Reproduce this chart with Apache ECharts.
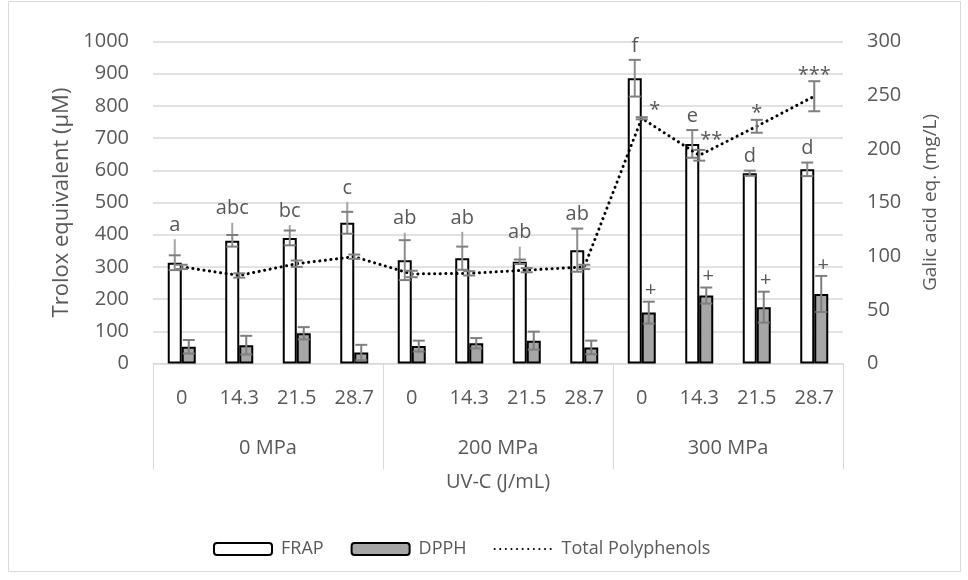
<!DOCTYPE html>
<html><head><meta charset="utf-8">
<script src="https://cdn.jsdelivr.net/npm/echarts@6/dist/echarts.min.js"></script>
<style>html,body{margin:0;padding:0;background:#fff}#c{width:968px;height:580px}</style>
</head><body><div id="c"></div>
<script>
// ---- data ----
const pressureGroups = ['0 MPa', '200 MPa', '300 MPa'];
const uvDoses = ['0', '14.3', '21.5', '28.7'];
const frap        = [313, 381, 390, 437, 321, 327, 316, 352, 886, 682, 591, 603];
const frapErr     = [23, 18, 23, 34, 62, 36, 7, 67, 57, 43, 8, 21];
const frapErrTop  = [386, 437, 430, 502, 406, 409, 363, 420, 943, 725, 599, 624];
const dpph        = [52, 57, 94, 34, 54, 63, 71, 50, 158, 211, 175, 216];
const dpphErr     = [21, 29, 19, 24, 17, 16, 28, 21, 34, 25, 48, 56];
const polyphenols = [90, 82, 93, 99.5, 83.4, 84, 87, 90, 228.5, 194, 221, 249];
const polyErr     = [2, 2, 3, 2, 3, 2, 2, 2, 1, 5, 6, 14];
const frapLetters = ['a', 'abc', 'bc', 'c', 'ab', 'ab', 'ab', 'ab', 'f', 'e', 'd', 'd'];
const dpphMarks   = ['', '', '', '', '', '', '', '', '+', '+', '+', '+'];
const polyMarks   = ['', '', '', '', '', '', '', '', '*', '**', '*', '***'];
const leftAxis  = { min: 0, max: 1000, interval: 100 };
const rightAxis = { min: 0, max: 300, interval: 50 };

// ---- build ----
const categories = [];
pressureGroups.forEach(g => uvDoses.forEach(u => categories.push(g + '|' + u)));
const FONT = '"Open Sans", sans-serif';
const TXT = '#595959';
const GRID = '#d9d9d9';
const BW = 14;           // bar width (px)
const HALF = 7;          // offset of each bar from category centre
const polyStarDx = [0, 0, 0, 0, 0, 0, 0, 0, 13, 12, 0, 0];
const polyStarDy = [0, 0, 0, 0, 0, 0, 0, 0, 3, 0, 3, 4];

function capLine(x, y, w, color) {
  return { type: 'line', shape: { x1: x - w / 2, y1: y, x2: x + w / 2, y2: y }, style: { stroke: color, lineWidth: 2 } };
}
function vLine(x, y1, y2, color) {
  return { type: 'line', shape: { x1: x, y1: y1, x2: x, y2: y2 }, style: { stroke: color, lineWidth: 2 } };
}

const chart = echarts.init(document.getElementById('c'), null, { renderer: 'canvas' });
chart.setOption({
  animation: false,
  backgroundColor: '#fff',
  textStyle: { fontFamily: FONT },
  graphic: [{
    type: 'rect', shape: { x: 8.5, y: 1.5, width: 952, height: 570 },
    style: { fill: 'none', stroke: GRID, lineWidth: 1 }, silent: true
  }],
  grid: { left: 153, right: 125, top: 41.5, bottom: 216.5, containLabel: false },
  legend: {
    left: 208, top: 535,
    itemWidth: 58, itemHeight: 12, itemGap: 27,
    textStyle: { color: TXT, fontSize: 18, fontFamily: FONT, padding: [0, 0, 0, 4] },
    data: ['FRAP', 'DPPH', { name: 'Total Polyphenols', itemStyle: { opacity: 0 } }]
  },
  xAxis: [{
    type: 'category', data: categories, position: 'bottom',
    axisLine: { lineStyle: { color: GRID, width: 1 } },
    axisTick: { show: false },
    axisLabel: { color: TXT, fontSize: 20, margin: 25, formatter: v => v.split('|')[1] }
  }, {
    type: 'category', data: pressureGroups, position: 'bottom',
    axisLine: { show: false },
    axisTick: { show: true, length: 106, lineStyle: { color: GRID, width: 1 } },
    axisLabel: { color: TXT, fontSize: 20, margin: 75 },
    name: 'UV-C (J/mL)', nameLocation: 'middle', nameGap: 109,
    nameTextStyle: { color: TXT, fontSize: 20 }
  }],
  yAxis: [{
    type: 'value', min: leftAxis.min, max: leftAxis.max, interval: leftAxis.interval,
    axisLine: { show: false }, axisTick: { show: false },
    splitLine: { lineStyle: { color: GRID, width: 1.5 } },
    axisLabel: { color: TXT, fontSize: 20, margin: 24, formatter: v => String(v) },
    name: 'Trolox equivalent (µM)', nameLocation: 'middle', nameRotate: 90, nameGap: 80,
    nameTextStyle: { color: TXT, fontSize: 22 }
  }, {
    type: 'value', min: rightAxis.min, max: rightAxis.max, interval: rightAxis.interval,
    position: 'right',
    axisLine: { show: false }, axisTick: { show: false }, splitLine: { show: false },
    axisLabel: { color: TXT, fontSize: 20, margin: 24, formatter: v => String(v) },
    name: 'Galic acid eq. (mg/L)', nameLocation: 'middle', nameRotate: 90, nameGap: 78,
    nameTextStyle: { color: TXT, fontSize: 19 }
  }],
  series: [{
    name: 'FRAP', type: 'bar', data: frap, barWidth: BW, barGap: '0%',
    itemStyle: { color: '#ffffff', borderColor: '#000', borderWidth: 2 }
  }, {
    name: 'DPPH', type: 'bar', data: dpph, barWidth: BW, barGap: '0%',
    itemStyle: { color: '#a6a6a6', borderColor: '#000', borderWidth: 2 }
  }, {
    // FRAP error bars + letters
    type: 'custom', xAxisIndex: 0, yAxisIndex: 0, z: 5,
    data: frap.map((v, i) => [i, v]),
    renderItem: (params, api) => {
      const i = params.dataIndex, v = frap[i], e = frapErr[i];
      const x = api.coord([i, v])[0] - HALF;
      const yt = api.coord([i, v + e])[1], yb = api.coord([i, v - e])[1];
      const yl = api.coord([i, Math.max(frapErrTop[i], v + e)])[1];
      return { type: 'group', children: [
        vLine(x, yl, yt, '#a6a6a6'),
        vLine(x, yt, yb, '#8c8c8c'),
        capLine(x, yt, 12, '#7f7f7f'), capLine(x, yb, 12, '#7f7f7f'),
        { type: 'text', style: { text: frapLetters[i], x: x, y: yl - 4, fill: TXT,
          fontSize: 20, fontFamily: FONT, align: 'center', verticalAlign: 'bottom' } }
      ] };
    }
  }, {
    // DPPH error bars + marks
    type: 'custom', xAxisIndex: 0, yAxisIndex: 0, z: 5,
    data: dpph.map((v, i) => [i, v]),
    renderItem: (params, api) => {
      const i = params.dataIndex, v = dpph[i], e = dpphErr[i];
      const x = api.coord([i, v])[0] + HALF;
      const yt = api.coord([i, v + e])[1], yb = api.coord([i, v - e])[1];
      return { type: 'group', children: [
        vLine(x, yt, yb, '#7f7f7f'),
        capLine(x, yt, 12, '#7f7f7f'), capLine(x, yb, 12, '#7f7f7f'),
        { type: 'text', style: { text: dpphMarks[i], x: x + 2, y: yt - 1, fill: TXT,
          fontSize: 20, fontFamily: FONT, align: 'center', verticalAlign: 'bottom' } }
      ] };
    }
  }, {
    name: 'Total Polyphenols', type: 'line', yAxisIndex: 1, data: polyphenols,
    symbol: 'none', z: 6,
    lineStyle: { color: '#000', width: 3, type: [0.1, 5.5], cap: 'round' },
    itemStyle: { color: '#000' }
  }, {
    // polyphenol error bars + stars
    type: 'custom', xAxisIndex: 0, yAxisIndex: 1, z: 7,
    data: polyphenols.map((v, i) => [i, v]),
    renderItem: (params, api) => {
      const i = params.dataIndex, v = polyphenols[i], e = polyErr[i];
      const x = api.coord([i, v])[0];
      const yt = api.coord([i, v + e])[1], yb = api.coord([i, v - e])[1];
      return { type: 'group', children: [
        vLine(x, yt, yb, '#7f7f7f'),
        capLine(x, yt, 12, '#7f7f7f'), capLine(x, yb, 12, '#7f7f7f'),
        { type: 'text', style: { text: polyMarks[i], x: x + polyStarDx[i], y: yt + polyStarDy[i], fill: TXT,
          fontSize: 20, fontFamily: FONT, align: 'center', verticalAlign: 'bottom' } }
      ] };
    }
  }]
});
</script></body></html>
